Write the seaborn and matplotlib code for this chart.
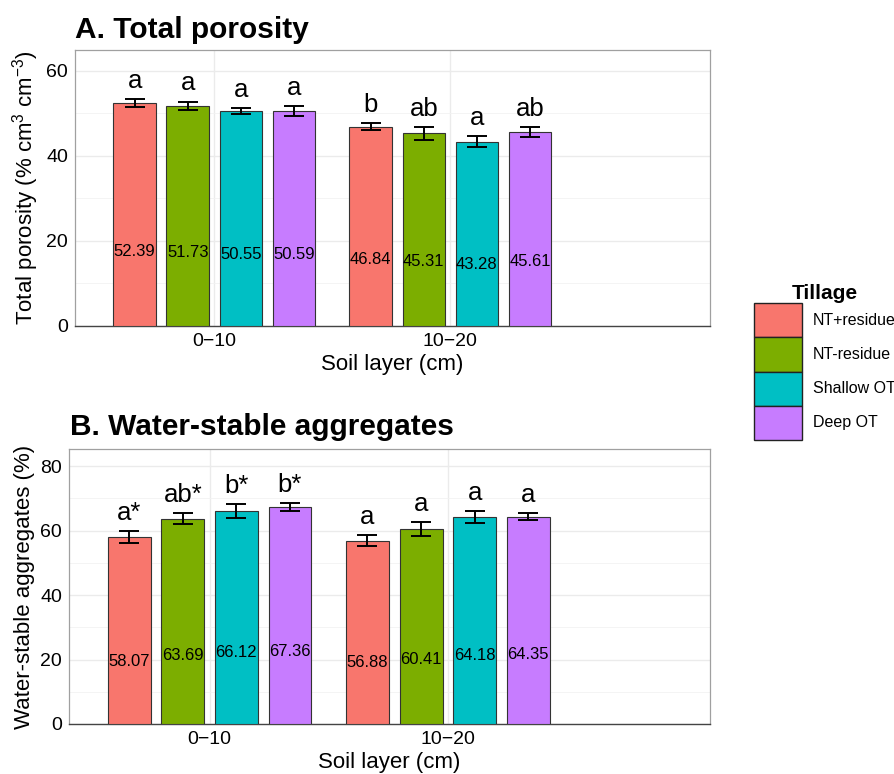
import numpy as np
import pandas as pd
import matplotlib
matplotlib.use("Agg")
import matplotlib.pyplot as plt
from matplotlib.patches import Patch
from matplotlib.ticker import MultipleLocator
import seaborn as sns

# === Data ===
layers = ["0\u221210", "10\u221220"]
tillage = ["NT+residue", "NT-residue", "Shallow OT", "Deep OT"]
colors = ["#F8766D", "#7CAE00", "#00BFC4", "#C77CFF"]

# A. Total porosity, rows = layer, cols = tillage
poro_mean = [[52.39, 51.73, 50.55, 50.59],
             [46.84, 45.31, 43.28, 45.61]]
poro_se = [[1.0, 1.05, 0.65, 1.1],
           [0.8, 1.5, 1.3, 1.1]]
poro_letters = [["a", "a", "a", "a"],
                ["b", "ab", "a", "ab"]]

# B. Water-stable aggregates
wsa_mean = [[58.07, 63.69, 66.12, 67.36],
            [56.88, 60.41, 64.18, 64.35]]
wsa_se = [[1.9, 1.65, 2.2, 1.2],
          [1.75, 2.15, 1.8, 1.2]]
wsa_letters = [["a*", "ab*", "b*", "b*"],
               ["a", "a", "a", "a"]]

sns.set_style("white")
plt.rcParams["font.family"] = ["Liberation Sans", "DejaVu Sans"]
plt.rcParams["text.color"] = "black"
plt.rcParams["axes.labelcolor"] = "black"
plt.rcParams["mathtext.fontset"] = "custom"
plt.rcParams["mathtext.rm"] = "Liberation Sans"
plt.rcParams["mathtext.it"] = "Liberation Sans:italic"


def make_df(means, ses):
    rows = []
    for i, lay in enumerate(layers):
        for j, t in enumerate(tillage):
            rows.append({"layer": lay, "tillage": t, "value": means[i][j], "se": ses[i][j]})
    return pd.DataFrame(rows)


def draw_panel(ax, means, ses, letters, ylim, ymaj, ylabel):
    df = make_df(means, ses)
    sns.barplot(data=df, x="layer", y="value", hue="tillage", order=layers,
                hue_order=tillage, palette=colors, saturation=1, width=0.9, gap=0.2,
                errorbar=None, edgecolor="#333333", linewidth=0.8,
                legend=False, ax=ax, zorder=3)
    bar_groups = list(ax.containers)
    # error bars, letters and value labels, placed on the seaborn bar positions
    for j, cont in enumerate(bar_groups):
        for i, bar in enumerate(cont):
            xc = bar.get_x() + bar.get_width() / 2
            m = means[i][j]
            s = ses[i][j]
            ax.errorbar(xc, m, yerr=s, color="black", lw=1.4, capsize=7.5,
                        capthick=1.4, zorder=4)
            ax.annotate(letters[i][j], (xc, m + s), xytext=(0, 8),
                        textcoords="offset points", ha="center", va="baseline",
                        fontsize=18.5, color="black", zorder=5)
            ax.text(xc, m / 3, f"{m:.2f}", ha="center", va="center",
                    fontsize=12, color="black", zorder=5)

    ax.set_xlim(-0.59, 2.10)
    ax.set_ylim(*ylim)
    ax.yaxis.set_major_locator(MultipleLocator(ymaj))
    ax.yaxis.set_minor_locator(MultipleLocator(ymaj / 2))
    ax.grid(True, which="major", axis="both", color="#EBEBEB", lw=1.0, zorder=0)
    ax.grid(True, which="minor", axis="y", color="#F2F2F2", lw=0.6, zorder=0)
    ax.set_axisbelow(True)
    for sp in ["top", "right", "left"]:
        ax.spines[sp].set_color("#A0A0A0")
        ax.spines[sp].set_linewidth(0.9)
    ax.spines["bottom"].set_color("#444444")
    ax.spines["bottom"].set_linewidth(1.0)
    ax.tick_params(axis="both", which="major", length=3, width=0.8,
                   color="#777777", labelsize=14, labelcolor="black", pad=2)
    ax.tick_params(axis="both", which="minor", length=0)
    ax.set_xlabel("Soil layer (cm)", fontsize=16, labelpad=3, color="black")
    ax.set_ylabel(ylabel, fontsize=16, labelpad=4, color="black")


fig = plt.figure(figsize=(8.95, 7.74), dpi=100)
ax1 = fig.add_axes([75 / 895, 1 - 326 / 774, (710 - 75) / 895, (326 - 50) / 774])
ax2 = fig.add_axes([69 / 895, 1 - 724 / 774, (710 - 69) / 895, (724 - 449) / 774])

draw_panel(ax1, poro_mean, poro_se, poro_letters, (0, 64.9), 20,
           "Total porosity (% cm$^{3}$ cm$^{-3}$)")
draw_panel(ax2, wsa_mean, wsa_se, wsa_letters, (0, 85.3), 20,
           "Water-stable aggregates (%)")

fig.text(75 / 895, 1 - 38 / 774, "A. Total porosity", fontsize=21.5,
         fontweight="bold", ha="left", va="baseline", color="black")
fig.text(70 / 895, 1 - 435 / 774, "B. Water-stable aggregates", fontsize=21.5,
         fontweight="bold", ha="left", va="baseline", color="black")

handles = [Patch(facecolor=c, edgecolor="#222222", lw=1.0) for c in colors]
leg = fig.legend(handles, tillage, title="Tillage", loc="center left",
                 bbox_to_anchor=(746 / 895, 1 - 362 / 774), frameon=False,
                 fontsize=11.5, title_fontproperties={"weight": "bold", "size": 15},
                 handlelength=3.0, handleheight=2.9, labelspacing=0,
                 handletextpad=0.7, borderpad=0)

fig.savefig("out.png", dpi=100)
